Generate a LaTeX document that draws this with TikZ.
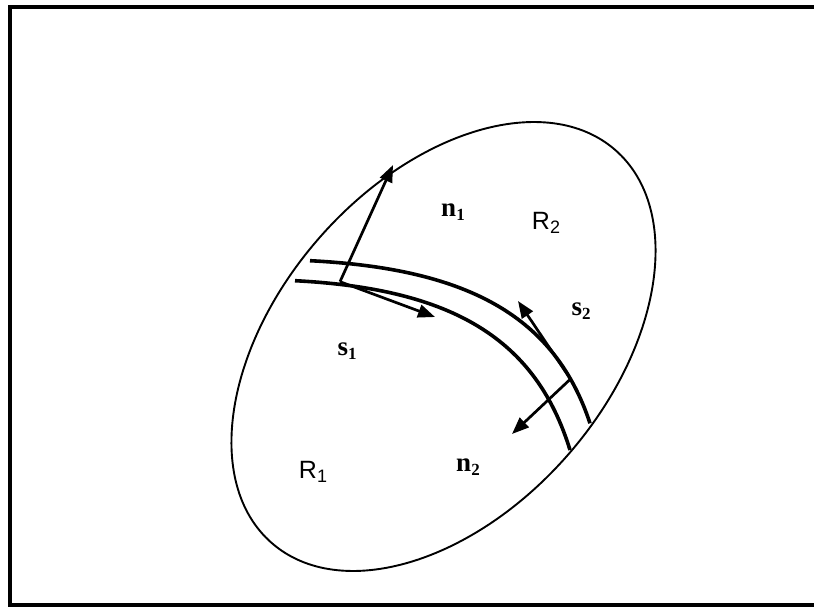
\documentclass[tikz,border=0pt]{standalone}
\usepackage{fontspec}
\setmainfont{Liberation Serif}
\newfontfamily\arialf{Liberation Sans}
\usetikzlibrary{arrows.meta}
\newcommand\sbs[2]{\raisebox{-0.3ex}{\fontsize{#1}{#1}\selectfont #2}}
\begin{document}
\begin{tikzpicture}[x=1pt,y=-1pt,
  vec/.style={line width=2.7pt, -{Triangle[length=17pt,width=13pt]}},
  band/.style={line width=3.6pt},
  serlab/.style={font=\fontsize{27}{27}\selectfont\bfseries, inner sep=0pt},
  sanlab/.style={font=\arialf\fontsize{25}{25}\selectfont, inner sep=0pt}]
\useasboundingbox (0,0) rectangle (814,607);
\fill[white] (0,0) rectangle (814,607);
% frame
\draw[line width=4pt] (816,7) -- (10,7) -- (10,605) -- (816,605);
% region boundary
\draw[line width=1.9pt, rotate around={48.8:(443.5,346.5)}] (443.5,346.5) ellipse [x radius=261, y radius=165];
% interface band
\draw[band] (310,260.7) .. controls (470,268.8) and (555,317.5) .. (590,423.3);
\draw[band] (295,280.7) .. controls (453.6,288.8) and (536,339.6) .. (570,450);
% points
\coordinate (A) at (340,281.7);
\coordinate (B) at (570.5,379);
\coordinate (tn1) at (393,165);
\coordinate (ts1) at (435,317);
\coordinate (ts2) at (518,301);
\coordinate (tn2) at (512,434);
% vectors
\draw[vec] (A) -- (tn1);
\draw[vec] (A) -- (ts1);
\draw[vec] (B) -- (ts2);
\draw[vec] (B) -- (tn2);
% labels
\node[serlab] (n1) at (453,212) {n\sbs{17}{1}};
\node[serlab] (s1) at (347,351) {s\sbs{17}{1}};
\node[serlab] (s2) at (581,311) {s\sbs{17}{2}};
\node[serlab] (n2) at (468,467) {n\sbs{17}{2}};
\node[sanlab] (R1) at (313,472) {R\sbs{18}{1}};
\node[sanlab] (R2) at (546,223) {R\sbs{18}{2}};
\end{tikzpicture}
\end{document}
